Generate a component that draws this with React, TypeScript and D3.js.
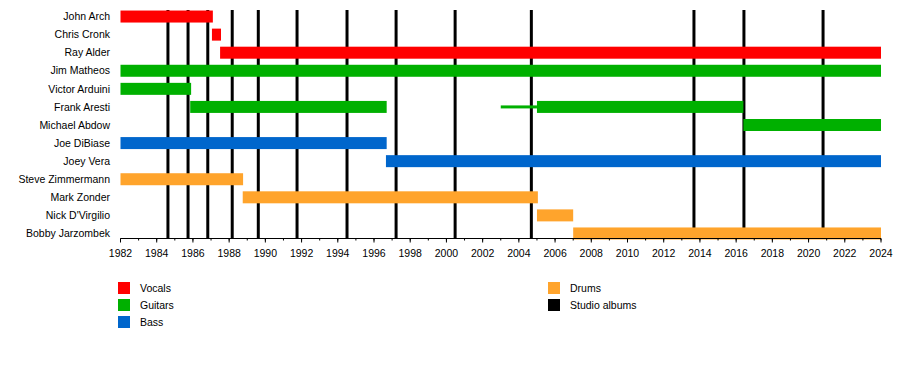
import React from "react";
import * as d3 from "d3";

const members = [
  "John Arch", "Chris Cronk", "Ray Alder", "Jim Matheos", "Victor Arduini",
  "Frank Aresti", "Michael Abdow", "Joe DiBiase", "Joey Vera",
  "Steve Zimmermann", "Mark Zonder", "Nick D'Virgilio", "Bobby Jarzombek",
];

const roles = ["Vocals", "Guitars", "Bass", "Drums", "Studio albums"];
const roleColors = ["#ff0000", "#00b000", "#0066cc", "#ffa42c", "#000000"];

// [member, role, start, end, thin]
const bars: [string, string, number, number, boolean][] = [
  ["John Arch", "Vocals", 1982, 1987.1, false],
  ["Chris Cronk", "Vocals", 1987.05, 1987.55, false],
  ["Ray Alder", "Vocals", 1987.5, 2024, false],
  ["Jim Matheos", "Guitars", 1982, 2024, false],
  ["Victor Arduini", "Guitars", 1982, 1985.9, false],
  ["Frank Aresti", "Guitars", 1985.85, 1996.7, false],
  ["Frank Aresti", "Guitars", 2003, 2005, true],
  ["Frank Aresti", "Guitars", 2005, 2016.4, false],
  ["Michael Abdow", "Guitars", 2016.4, 2024, false],
  ["Joe DiBiase", "Bass", 1982, 1996.7, false],
  ["Joey Vera", "Bass", 1996.66, 2024, false],
  ["Steve Zimmermann", "Drums", 1982, 1988.77, false],
  ["Mark Zonder", "Drums", 1988.75, 2005.05, false],
  ["Nick D'Virgilio", "Drums", 2005, 2007, false],
  ["Bobby Jarzombek", "Drums", 2007, 2024, false],
];

const albums = [
  1984.62, 1985.73, 1986.82, 1988.17, 1989.61, 1991.75, 1994.51,
  1997.22, 2000.48, 2004.69, 2013.67, 2016.43, 2020.8,
];

const majorTicks = d3.range(1982, 2025, 2);
const minorTicks = d3.range(1982, 2025, 1);

const legendLeft = ["Vocals", "Guitars", "Bass"];
const legendRight = ["Drums", "Studio albums"];

export default function App() {
  const W = 900, H = 388;
  const x = d3.scaleLinear().domain([1982, 2024]).range([120.5, 881]);
  const y = d3.scaleBand<string>().domain(members).range([7.5, 242.5]).paddingInner(0.34).paddingOuter(0.17);
  const color = d3.scaleOrdinal<string, string>().domain(roles).range(roleColors);
  const axisY = 238.5;
  const font = "'Liberation Sans', Arial, sans-serif";
  const bh = 12;
  const center = (m: string) => (y(m) as number) + y.bandwidth() / 2;

  return (
    <svg width={W} height={H} style={{ position: "absolute", left: 0, top: 0 }} fontFamily={font}>
      <rect width={W} height={H} fill="#fff" />
      {albums.map((a, i) => (
        <line key={"al" + i} x1={x(a)} x2={x(a)} y1={10} y2={axisY} stroke="#000" strokeWidth={3} />
      ))}
      {bars.map(([m, r, s, e, thin], i) => {
        const c = center(m);
        const h = thin ? 3 : bh;
        return (
          <rect key={"b" + i} x={x(s)} y={c - h / 2} width={x(e) - x(s)} height={h} fill={color(r)} />
        );
      })}
      {members.map((m) => (
        <text key={m} x={110} y={center(m)} dy="0.35em" textAnchor="end" fontSize={10.5} fill="#000">
          {m}
        </text>
      ))}
      <line x1={x(1982)} x2={x(2024)} y1={axisY} y2={axisY} stroke="#000" strokeWidth={1} />
      {minorTicks.map((t) => (
        <line key={"mt" + t} x1={x(t)} x2={x(t)} y1={axisY} y2={axisY + 2} stroke="#000" strokeWidth={1} />
      ))}
      {majorTicks.map((t) => (
        <g key={"t" + t}>
          <line x1={x(t)} x2={x(t)} y1={axisY} y2={axisY + 4} stroke="#000" strokeWidth={1} />
          <text x={x(t)} y={257} textAnchor="middle" fontSize={10.5} fill="#000">{t}</text>
        </g>
      ))}
      {legendLeft.map((r, i) => (
        <g key={r}>
          <rect x={118} y={282 + i * 17} width={12} height={12} fill={color(r)} />
          <text x={140} y={288 + i * 17} dy="0.35em" fontSize={10.5} fill="#000">{r}</text>
        </g>
      ))}
      {legendRight.map((r, i) => (
        <g key={r}>
          <rect x={548} y={282 + i * 17} width={12} height={12} fill={color(r)} />
          <text x={570} y={288 + i * 17} dy="0.35em" fontSize={10.5} fill="#000">{r}</text>
        </g>
      ))}
    </svg>
  );
}
